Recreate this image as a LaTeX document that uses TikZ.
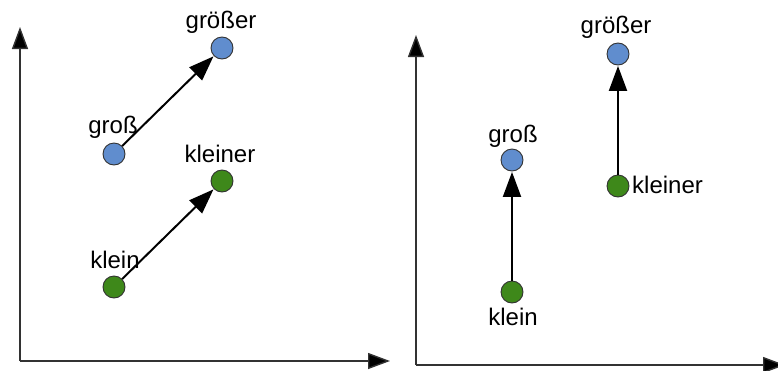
\documentclass[tikz,border=0pt]{standalone}
\usepackage{fontspec}
\setmainfont{Liberation Sans}
\usetikzlibrary{arrows.meta}
\definecolor{dotblue}{RGB}{96,141,206}
\definecolor{dotgreen}{RGB}{62,136,26}
\definecolor{axisgray}{RGB}{50,50,50}
\tikzset{
  dot/.style={circle, draw=axisgray, line width=0.9pt, minimum size=22pt, inner sep=0pt},
  bdot/.style={dot, fill=dotblue},
  gdot/.style={dot, fill=dotgreen},
  lbl/.style={anchor=base, inner sep=0pt, font=\fontsize{24}{27}\selectfont},
  conn/.style={line width=2pt, -{Triangle[length=25pt, width=18pt]}, shorten >=0.5pt},
  axis/.style={draw=axisgray, line width=1.4pt, -{Triangle[length=22pt, width=16pt, fill=black]}}
}
\begin{document}
\begin{tikzpicture}[x=1pt, y=-1pt]
\useasboundingbox (0,0) rectangle (778,370);
% left panel axes
\coordinate (o1) at (20,361);
\coordinate (yt1) at (20,27);
\coordinate (xt1) at (390,361);
\draw[axis] (o1) -- (yt1);
\draw[axis] (o1) -- (xt1);
% right panel axes
\coordinate (o2) at (416,365);
\coordinate (yt2) at (416,35);
\coordinate (xt2) at (785,365);
\draw[axis] (o2) -- (yt2);
\draw[axis] (o2) -- (xt2);
% left panel nodes
\node[bdot] (Lgroesser) at (222,48) {};
\node[bdot] (Lgross) at (114,154) {};
\node[gdot] (Lkleiner) at (222,181) {};
\node[gdot] (Lklein) at (114,287) {};
\node[lbl] (tLgroesser) at (221,28) {größer};
\node[lbl] (tLgross) at (113,133) {groß};
\node[lbl] (tLkleiner) at (220,162) {kleiner};
\node[lbl] (tLklein) at (115,268) {klein};
\draw[conn] (Lgross) -- (Lgroesser);
\draw[conn] (Lklein) -- (Lkleiner);
% right panel nodes
\node[bdot] (Rgroesser) at (618,54) {};
\node[bdot] (Rgross) at (512,160) {};
\node[gdot] (Rkleiner) at (618,186) {};
\node[gdot] (Rklein) at (512,292) {};
\node[lbl] (tRgroesser) at (616,33) {größer};
\node[lbl] (tRgross) at (513,142) {groß};
\node[lbl, anchor=base west] (tRkleiner) at (632,193) {kleiner};
\node[lbl] (tRklein) at (513,325) {klein};
\draw[conn] (Rklein) -- (Rgross);
\draw[conn] (Rkleiner) -- (Rgroesser);
\end{tikzpicture}
\end{document}
